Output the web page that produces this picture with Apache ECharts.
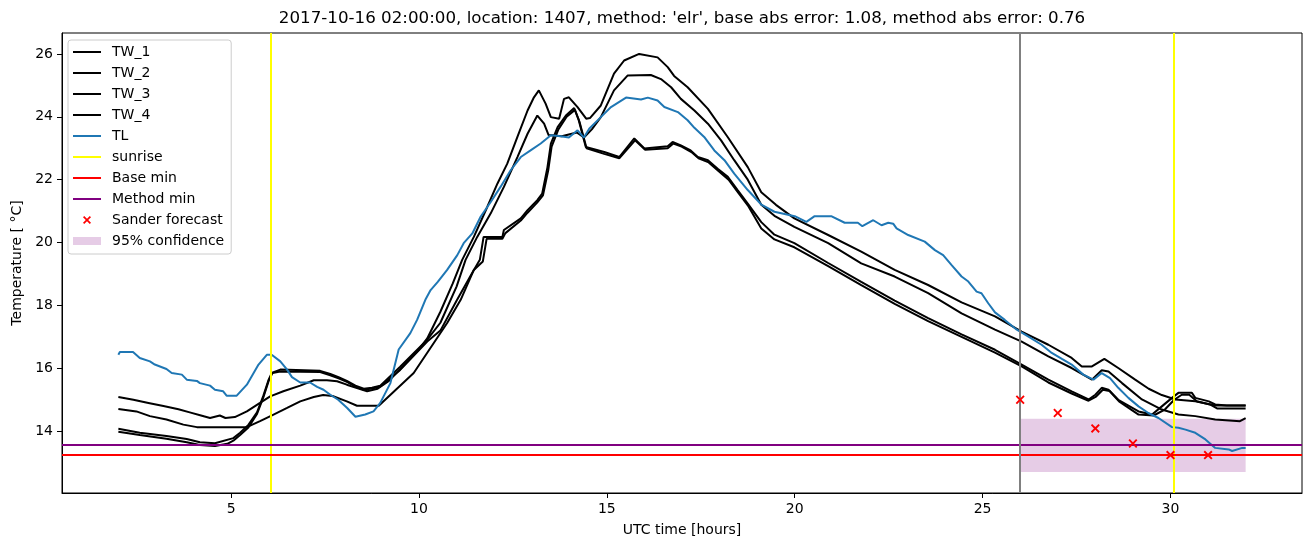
<!DOCTYPE html>
<html>
<head>
<meta charset="utf-8">
<script src="https://cdn.jsdelivr.net/npm/echarts@6/dist/echarts.min.js"></script>
<style>
html,body{margin:0;padding:0;background:#fff;}
#chart{width:1311px;height:547px;}
</style>
</head>
<body>
<div id="chart"></div>
<script>
// ---------------- data ----------------
const TITLE = "2017-10-16 02:00:00, location: 1407, method: 'elr', base abs error: 1.08, method abs error: 0.76";
const X_TICKS = [5, 10, 15, 20, 25, 30];
const Y_TICKS = [14, 16, 18, 20, 22, 24, 26];

const TW_1 = [[2.0,15.09],[2.4,15.0],[2.8,14.9],[3.2,14.8],[3.6,14.7],[3.9,14.6],[4.2,14.5],[4.44,14.42],[4.7,14.5],[4.85,14.42],[5.1,14.45],[5.42,14.63],[5.77,14.9],[6.04,15.11],[6.39,15.27],[6.84,15.45],[7.2,15.62],[7.55,15.62],[7.82,15.59],[8.08,15.48],[8.35,15.37],[8.62,15.27],[8.9,15.35],[9.2,15.6],[9.6,16.1],[10.0,16.6],[10.22,16.95],[10.57,17.8],[10.9,18.7],[11.15,19.45],[11.46,20.18],[11.82,21.14],[12.09,21.88],[12.35,22.51],[12.62,23.36],[12.89,24.2],[13.06,24.62],[13.19,24.84],[13.37,24.42],[13.51,23.99],[13.73,23.94],[13.86,24.57],[13.99,24.62],[14.22,24.31],[14.45,23.94],[14.55,23.96],[14.84,24.36],[15.19,25.37],[15.46,25.79],[15.86,26.0],[16.35,25.89],[16.62,25.58],[16.79,25.3],[17.15,24.94],[17.69,24.25],[18.22,23.35],[18.75,22.4],[19.11,21.6],[19.5,21.2],[19.99,20.77],[20.89,20.24],[21.77,19.71],[22.66,19.13],[23.55,18.65],[24.44,18.1],[25.33,17.65],[26.04,17.17],[26.75,16.75],[27.37,16.33],[27.64,16.06],[27.91,16.06],[28.24,16.3],[28.61,16.01],[29.06,15.64],[29.42,15.35],[29.77,15.15],[30.13,15.01],[30.66,14.95],[31.19,14.82],[32.0,14.82]];

const TW_2 = [[2.0,14.08],[2.57,13.95],[3.28,13.85],[3.82,13.75],[4.17,13.65],[4.57,13.62],[5.06,13.78],[5.24,13.95],[5.46,14.2],[5.69,14.6],[5.86,15.13],[6.0,15.64],[6.08,15.85],[6.31,15.96],[7.37,15.92],[7.64,15.82],[7.86,15.72],[8.08,15.6],[8.31,15.45],[8.53,15.35],[8.75,15.38],[8.97,15.45],[9.5,16.05],[10.22,16.91],[10.57,17.45],[11.0,18.6],[11.24,19.45],[11.55,20.18],[11.91,20.93],[12.26,21.77],[12.62,22.72],[12.89,23.46],[13.15,24.04],[13.33,23.78],[13.45,23.42],[13.8,23.38],[14.2,23.5],[14.39,23.34],[14.6,23.6],[14.84,23.99],[15.19,24.84],[15.55,25.31],[16.17,25.33],[16.44,25.2],[16.71,24.94],[16.97,24.57],[17.33,24.2],[17.69,23.78],[18.04,23.25],[18.39,22.62],[18.75,22.0],[19.11,21.2],[19.46,20.85],[19.99,20.5],[20.89,19.98],[21.77,19.34],[22.66,18.92],[23.55,18.39],[24.44,17.75],[25.33,17.23],[26.04,16.85],[26.75,16.38],[27.37,16.01],[27.91,15.64],[28.17,15.94],[28.35,15.9],[28.71,15.53],[29.24,15.01],[29.77,14.69],[30.21,14.53],[30.66,14.48],[31.19,14.37],[31.85,14.32],[32.0,14.42]];

const TW_3 = [[2.0,13.98],[2.57,13.88],[3.28,13.76],[3.82,13.65],[4.17,13.56],[4.57,13.53],[4.9,13.6],[5.06,13.7],[5.24,13.88],[5.46,14.12],[5.69,14.55],[5.86,15.08],[6.0,15.6],[6.1,15.85],[6.31,15.9],[7.37,15.88],[7.64,15.78],[7.86,15.68],[8.08,15.57],[8.31,15.42],[8.53,15.32],[8.75,15.36],[8.97,15.42],[9.5,15.95],[10.22,16.85],[10.57,17.2],[11.0,18.15],[11.4,19.0],[11.62,19.45],[11.72,20.18],[12.22,20.18],[12.26,20.4],[12.71,20.77],[12.89,21.03],[13.15,21.35],[13.28,21.56],[13.42,22.4],[13.51,23.15],[13.69,23.67],[13.91,24.04],[14.13,24.28],[14.25,23.9],[14.44,23.04],[14.93,22.88],[15.33,22.72],[15.73,23.31],[16.0,22.99],[16.62,23.06],[16.75,23.2],[16.97,23.09],[17.23,22.93],[17.42,22.72],[17.69,22.62],[17.95,22.35],[18.22,22.09],[18.48,21.67],[18.75,21.24],[19.11,20.65],[19.46,20.25],[19.99,19.98],[20.89,19.35],[21.77,18.75],[22.66,18.15],[23.55,17.6],[24.44,17.08],[25.33,16.59],[26.04,16.12],[26.75,15.64],[27.37,15.27],[27.82,15.01],[28.0,15.16],[28.17,15.38],[28.35,15.32],[28.61,15.0],[29.15,14.63],[29.51,14.53],[29.77,14.79],[30.04,15.06],[30.21,15.22],[30.57,15.22],[30.66,15.06],[31.02,14.95],[31.19,14.85],[31.5,14.82],[32.0,14.82]];

const TW_4 = [[2.0,14.71],[2.48,14.63],[2.84,14.48],[3.28,14.37],[3.73,14.21],[4.09,14.13],[5.42,14.13],[5.77,14.32],[6.13,14.53],[6.49,14.74],[6.84,14.95],[7.2,15.09],[7.45,15.15],[7.7,15.12],[8.08,14.95],[8.35,14.81],[8.93,14.81],[9.86,15.85],[10.75,17.44],[11.11,18.18],[11.46,19.13],[11.7,19.4],[11.8,20.12],[12.22,20.12],[12.3,20.3],[12.71,20.7],[12.89,20.95],[13.15,21.28],[13.3,21.5],[13.44,22.3],[13.53,23.05],[13.71,23.6],[13.93,24.0],[14.15,24.22],[14.27,23.85],[14.46,23.0],[14.93,22.82],[15.33,22.68],[15.75,23.25],[16.02,22.95],[16.62,23.0],[16.77,23.15],[16.99,23.05],[17.25,22.88],[17.44,22.68],[17.71,22.55],[17.97,22.28],[18.24,22.0],[18.5,21.58],[18.77,21.15],[19.11,20.45],[19.46,20.1],[19.99,19.85],[20.89,19.25],[21.77,18.65],[22.66,18.05],[23.55,17.5],[24.44,17.0],[25.33,16.5],[26.04,16.06],[26.75,15.55],[27.37,15.2],[27.82,14.97],[28.02,15.1],[28.2,15.32],[28.38,15.28],[28.63,14.95],[29.15,14.53],[29.55,14.5],[29.85,14.69],[30.1,15.0],[30.3,15.16],[30.5,15.16],[30.7,14.95],[31.05,14.85],[31.25,14.72],[32.0,14.72]];

const TL = [[2.0,16.43],[2.04,16.52],[2.39,16.52],[2.57,16.33],[2.84,16.22],[2.97,16.12],[3.28,15.98],[3.42,15.85],[3.69,15.8],[3.82,15.64],[4.09,15.6],[4.17,15.53],[4.44,15.45],[4.57,15.32],[4.79,15.27],[4.88,15.13],[5.15,15.13],[5.42,15.48],[5.73,16.12],[5.95,16.43],[6.08,16.43],[6.31,16.22],[6.49,15.96],[6.62,15.72],[6.84,15.55],[7.1,15.55],[7.29,15.41],[7.46,15.32],[7.64,15.16],[7.85,15.0],[8.09,14.74],[8.31,14.46],[8.57,14.53],[8.79,14.63],[8.97,14.9],[9.24,15.53],[9.46,16.6],[9.77,17.12],[9.95,17.54],[10.17,18.18],[10.31,18.49],[10.5,18.75],[10.75,19.13],[11.02,19.6],[11.19,19.98],[11.42,20.29],[11.64,20.82],[11.91,21.29],[12.17,21.77],[12.44,22.3],[12.71,22.72],[12.97,22.93],[13.24,23.15],[13.51,23.41],[13.77,23.38],[13.99,23.34],[14.22,23.57],[14.39,23.34],[14.53,23.62],[14.84,23.99],[15.11,24.31],[15.51,24.61],[15.91,24.55],[16.09,24.61],[16.35,24.52],[16.53,24.31],[16.89,24.15],[17.15,23.89],[17.33,23.65],[17.59,23.36],[17.86,22.93],[18.13,22.62],[18.39,22.19],[18.75,21.67],[19.11,21.21],[19.46,20.98],[20.0,20.84],[20.31,20.66],[20.53,20.84],[20.97,20.84],[21.33,20.63],[21.68,20.63],[21.8,20.52],[22.09,20.71],[22.31,20.55],[22.49,20.63],[22.62,20.6],[22.71,20.45],[23.02,20.24],[23.46,20.03],[23.73,19.76],[23.95,19.6],[24.17,19.29],[24.44,18.92],[24.62,18.76],[24.84,18.44],[24.97,18.39],[25.15,18.07],[25.33,17.78],[25.59,17.54],[25.91,17.23],[26.22,17.01],[26.57,16.75],[26.84,16.49],[27.11,16.3],[27.37,16.12],[27.68,15.8],[27.95,15.64],[28.17,15.85],[28.39,15.69],[28.61,15.38],[28.88,15.06],[29.15,14.79],[29.41,14.58],[29.68,14.42],[30.04,14.13],[30.21,14.11],[30.4,14.05],[30.66,13.95],[30.93,13.74],[31.19,13.47],[31.55,13.42],[31.64,13.37],[31.91,13.47],[32.0,13.47]];

const SUNRISE_X = [6.05, 30.08];
const NOW_X = [26];
const BASE_MIN = [13.24];
const METHOD_MIN = [13.56];
const SANDER_X = [26, 27, 28, 29, 30, 31];
const SANDER_Y = [15.0, 14.58, 14.09, 13.61, 13.24, 13.24];
const CONF_X = [26, 32];
const CONF_Y = [12.70, 14.40];

// ---------------- chart ----------------
const FONT = 'DejaVu Sans';
const LINE_ICON = 'path://M0,0H28V2H0Z';
const X_ICON = 'path://M0,1.5L1.5,0L5,3.5L8.5,0L10,1.5L6.5,5L10,8.5L8.5,10L5,6.5L1.5,10L0,8.5L3.5,5Z';

function lineSeries(name, data, color, z) {
  return {
    name: name, type: 'line', data: data, color: color,
    symbol: 'none', showSymbol: false, z: z, silent: true,
    lineStyle: { color: color, width: 2 },
    emphasis: { disabled: true }
  };
}
function markSeries(name, color, markData, z) {
  return {
    name: name, type: 'line', data: [], color: color, z: z, silent: true,
    symbol: 'none', lineStyle: { color: color, width: 2 },
    markLine: {
      silent: true, symbol: 'none', animation: false,
      label: { show: false }, emphasis: { disabled: true },
      lineStyle: { color: color, width: 2, type: 'solid' },
      data: markData
    }
  };
}

const chart = echarts.init(document.getElementById('chart'), null, { renderer: 'canvas' });
const option = {
  animation: false,
  backgroundColor: '#ffffff',
  textStyle: { fontFamily: FONT },
  title: {
    text: TITLE, left: 682, top: 10, padding: 0, textAlign: 'center',
    textStyle: { fontFamily: FONT, fontSize: 16.7, fontWeight: 'normal', color: '#000' }
  },
  grid: {
    left: 62, top: 33, width: 1240, height: 460, containLabel: false,
    show: true, borderColor: '#000', borderWidth: 1, backgroundColor: 'transparent'
  },
  xAxis: {
    type: 'value', min: 0.5, max: 33.5,
    name: 'UTC time [hours]', nameLocation: 'middle', nameGap: 30,
    nameTextStyle: { fontFamily: FONT, fontSize: 14, color: '#000' },
    axisLine: { show: true, onZero: false, lineStyle: { color: '#000', width: 1 } },
    axisTick: { show: true, length: 5, customValues: X_TICKS, lineStyle: { color: '#000', width: 1 } },
    axisLabel: { customValues: X_TICKS, margin: 9, fontFamily: FONT, fontSize: 14, color: '#000' },
    splitLine: { show: false }
  },
  yAxis: {
    type: 'value', min: 12.035, max: 26.665,
    name: 'Temperature [ °C]', nameLocation: 'middle', nameGap: 36, nameRotate: 90,
    nameTextStyle: { fontFamily: FONT, fontSize: 14, color: '#000' },
    axisLine: { show: true, onZero: false, lineStyle: { color: '#000', width: 1 } },
    axisTick: { show: true, length: 5, customValues: Y_TICKS, lineStyle: { color: '#000', width: 1 } },
    axisLabel: { customValues: Y_TICKS, margin: 9, fontFamily: FONT, fontSize: 14, color: '#000' },
    splitLine: { show: false }
  },
  legend: {
    orient: 'vertical', left: 68, top: 40,
    padding: [5, 7, 6, 5],
    itemWidth: 28, itemHeight: 8, itemGap: 7,
    backgroundColor: 'rgba(255,255,255,0.8)', borderColor: '#cccccc', borderWidth: 1, borderRadius: 3,
    selectedMode: false,
    itemStyle: { borderWidth: 0, opacity: 1 },
    textStyle: { fontFamily: FONT, fontSize: 14, lineHeight: 14, color: '#000', padding: [0, 0, 0, 6] },
    data: [
      { name: 'TW_1', icon: LINE_ICON },
      { name: 'TW_2', icon: LINE_ICON },
      { name: 'TW_3', icon: LINE_ICON },
      { name: 'TW_4', icon: LINE_ICON },
      { name: 'TL', icon: LINE_ICON },
      { name: 'sunrise', icon: LINE_ICON },
      { name: 'Base min', icon: LINE_ICON },
      { name: 'Method min', icon: LINE_ICON },
      { name: 'Sander forecast', icon: X_ICON },
      { name: '95% confidence', icon: 'rect' }
    ]
  },
  series: [
    {
      name: '95% confidence', type: 'line', data: [], z: 1, silent: true,
      color: 'rgba(128,0,128,0.2)', symbol: 'none',
      lineStyle: { color: 'rgba(128,0,128,0.2)', width: 0 },
      markArea: {
        silent: true, animation: false, label: { show: false },
        itemStyle: { color: 'rgba(128,0,128,0.2)', borderWidth: 0 },
        emphasis: { disabled: true },
        data: [[{ coord: [CONF_X[0], CONF_Y[0]] }, { coord: [CONF_X[1], CONF_Y[1]] }]]
      }
    },
    lineSeries('TW_1', TW_1, '#000000', 2),
    lineSeries('TW_2', TW_2, '#000000', 2),
    lineSeries('TW_3', TW_3, '#000000', 2),
    lineSeries('TW_4', TW_4, '#000000', 2),
    lineSeries('TL', TL, '#1f77b4', 3),
    markSeries('sunrise', '#ffff00', SUNRISE_X.map(v => ({ xAxis: v })), 4),
    markSeries('Base min', '#ff0000', BASE_MIN.map(v => ({ yAxis: v })), 4),
    markSeries('Method min', '#800080', METHOD_MIN.map(v => ({ yAxis: v })), 4),
    markSeries('now', '#808080', NOW_X.map(v => ({ xAxis: v })), 4),
    {
      name: 'Sander forecast', type: 'scatter', z: 6, silent: true,
      data: SANDER_X.map((x, i) => [x, SANDER_Y[i]]),
      symbol: X_ICON, symbolSize: 9, symbolKeepAspect: true,
      color: '#ff0000', itemStyle: { color: '#ff0000', opacity: 1 },
      emphasis: { disabled: true }
    }
  ]
};
chart.setOption(option);
</script>
</body>
</html>
